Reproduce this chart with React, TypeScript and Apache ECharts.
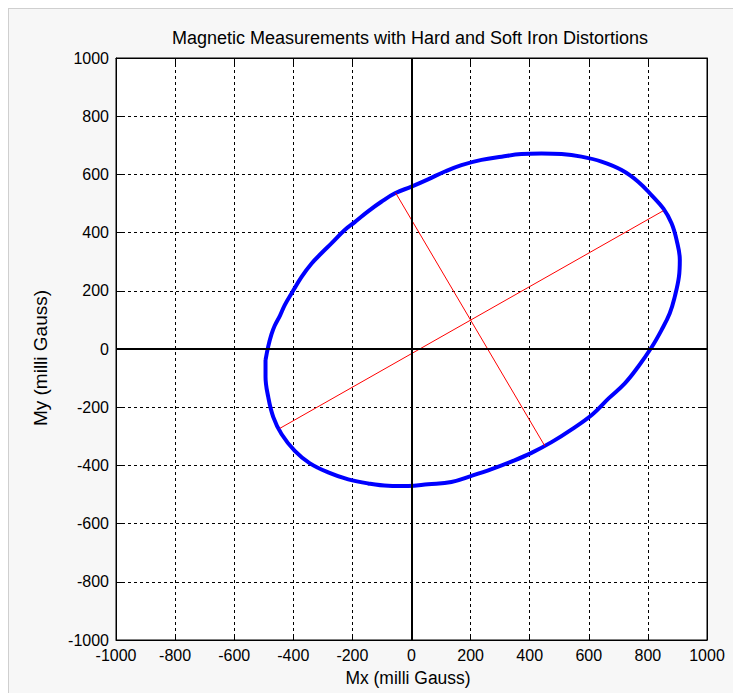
import React, { useEffect, useRef } from 'react';
import * as echarts from 'echarts';

const TITLE = 'Magnetic Measurements with Hard and Soft Iron Distortions';
const X_NAME = 'Mx (milli Gauss)';
const Y_NAME = 'My (milli Gauss)';
const AXIS_MIN = -1000;
const AXIS_MAX = 1000;
const AXIS_STEP = 200;

// Measured magnetometer samples (milli Gauss), traced around the distorted ellipse
const ellipseMx = [
  -494, -485, -474, -463, -445, -429, -406, -372, -338, -305, -271, -226, -192, -147, -102, -56,
  0, 56, 113, 169, 237, 305, 372, 440, 508, 575, 643, 711, 767, 812, 852, 880, 897, 908, 905,
  891, 874, 846, 812, 767, 722, 668, 612, 541, 474, 406, 338, 271, 203, 135, 56, -11, -79, -147,
  -214, -282, -345, -395, -440, -468, -485, -494, -494,
];
const ellipseMy = [
  -38, 8, 50, 80, 115, 151, 191, 248, 294, 329, 363, 409, 436, 473, 506, 535,
  558, 583, 610, 632, 650, 661, 670, 672, 670, 661, 644, 615, 575, 529, 483, 432, 375, 306, 248,
  180, 123, 65, 5, -61, -118, -169, -225, -277, -320, -357, -387, -413, -436, -457, -465, -471, -470, -462,
  -448, -424, -392, -350, -292, -233, -164, -95, -38,
];

// Principal axes of the fitted ellipse
const majorAxisMx = [-446, 852];
const majorAxisMy = [-273, 475];
const minorAxisMx = [-54, 451];
const minorAxisMy = [537, -333];

const FONT = "'Liberation Sans', Arial, Helvetica, sans-serif";

export default function App() {
  const ref = useRef<HTMLDivElement>(null);
  useEffect(() => {
    document.body.style.margin = '0';
    const chart = echarts.init(ref.current!, null, { renderer: 'svg' });
    const pair = (xs: number[], ys: number[]) => xs.map((x, i) => [x, ys[i]]);
    const baseAxis = {
      type: 'value',
      min: AXIS_MIN,
      max: AXIS_MAX,
      interval: AXIS_STEP,
    };
    const option = {
      animation: false,
      grid: {
        left: 116,
        top: 58,
        width: 591,
        height: 582,
        show: true,
        backgroundColor: '#ffffff',
        borderColor: '#000000',
        borderWidth: 1,
      },
      xAxis: [
        {
          ...baseAxis,
          position: 'bottom',
          axisLine: { show: true, onZero: false, lineStyle: { color: '#000', width: 1 } },
          axisTick: { show: true, inside: true, length: 6, lineStyle: { color: '#000' } },
          axisLabel: {
            color: '#000',
            fontSize: 16,
            fontFamily: FONT,
            margin: 7,
            formatter: (v: number) => String(v),
          },
          splitLine: { show: true, lineStyle: { color: '#000', width: 1, type: [3, 3] } },
        },
        {
          ...baseAxis,
          position: 'top',
          axisLine: { show: true, onZero: false, lineStyle: { color: '#000', width: 1 } },
          axisTick: { show: true, inside: true, length: 6, lineStyle: { color: '#000' } },
          axisLabel: { show: false },
          splitLine: { show: false },
        },
      ],
      yAxis: [
        {
          ...baseAxis,
          position: 'left',
          axisLine: { show: true, onZero: false, lineStyle: { color: '#000', width: 1 } },
          axisTick: { show: true, inside: true, length: 6, lineStyle: { color: '#000' } },
          axisLabel: {
            color: '#000',
            fontSize: 16,
            fontFamily: FONT,
            margin: 7,
            formatter: (v: number) => String(v),
          },
          splitLine: { show: true, lineStyle: { color: '#000', width: 1, type: [3, 3] } },
        },
        {
          ...baseAxis,
          position: 'right',
          axisLine: { show: true, onZero: false, lineStyle: { color: '#000', width: 1 } },
          axisTick: { show: true, inside: true, length: 6, lineStyle: { color: '#000' } },
          axisLabel: { show: false },
          splitLine: { show: false },
        },
      ],
      graphic: [
        {
          type: 'text',
          x: 410,
          y: 38,
          style: {
            text: TITLE,
            fill: '#000',
            fontSize: 18,
            fontFamily: FONT,
            align: 'center',
            verticalAlign: 'middle',
          },
        },
        {
          type: 'text',
          x: 408,
          y: 677,
          scaleX: 0.92,
          style: {
            text: X_NAME,
            fill: '#000',
            fontSize: 19,
            fontFamily: FONT,
            align: 'center',
            verticalAlign: 'middle',
          },
        },
        {
          type: 'text',
          x: 40,
          y: 358,
          rotation: Math.PI / 2,
          style: {
            text: Y_NAME,
            fill: '#000',
            fontSize: 19,
            fontFamily: FONT,
            align: 'center',
            verticalAlign: 'middle',
          },
        },
      ],
      series: [
        {
          name: 'Measurements',
          type: 'line',
          data: pair(ellipseMx, ellipseMy),
          showSymbol: false,
          symbol: 'none',
          smooth: 0.4,
          lineStyle: { color: '#0000ff', width: 4 },
          z: 2,
        },
        {
          name: 'Major axis',
          type: 'line',
          data: pair(majorAxisMx, majorAxisMy),
          symbol: 'none',
          lineStyle: { color: '#ff0000', width: 1 },
          z: 3,
        },
        {
          name: 'Minor axis',
          type: 'line',
          data: pair(minorAxisMx, minorAxisMy),
          symbol: 'none',
          lineStyle: { color: '#ff0000', width: 1 },
          z: 3,
        },
        {
          name: 'Zero lines',
          type: 'line',
          data: [],
          z: 4,
          markLine: {
            silent: true,
            symbol: 'none',
            label: { show: false },
            lineStyle: { color: '#000', width: 2, type: 'solid' },
            data: [{ xAxis: 0 }, { yAxis: 0 }],
          },
        },
      ],
    };
    chart.setOption(option as any);
    return () => chart.dispose();
  }, []);
  return (
    <div style={{ position: 'relative', width: 733, height: 693, background: '#ffffff', overflow: 'hidden' }}>
      <div
        style={{
          position: 'absolute',
          left: 8,
          top: 8,
          width: 725,
          height: 685,
          background: '#f7f7f7',
          borderTop: '1px solid #cfcfcf',
          borderLeft: '1px solid #cfcfcf',
          boxSizing: 'border-box',
        }}
      />
      <div ref={ref} style={{ position: 'absolute', left: 0, top: 0, width: 733, height: 693 }} />
    </div>
  );
}
